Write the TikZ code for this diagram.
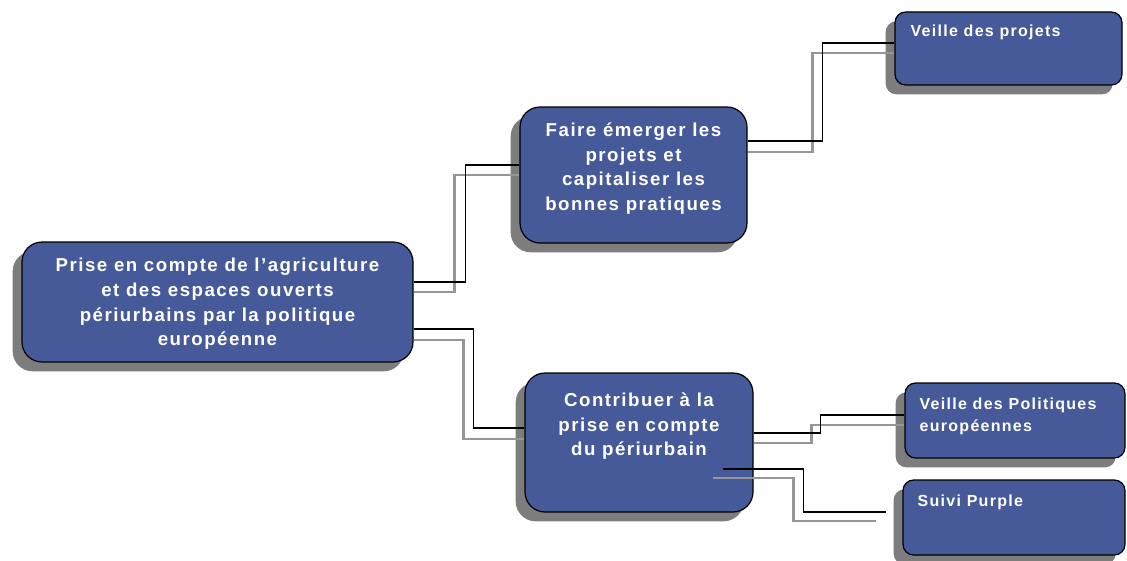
\documentclass[tikz,border=0pt]{standalone}
\usepackage{fontspec}
\setmainfont{Liberation Sans}
\newfontfamily\boxfont[LetterSpace=8]{Liberation Sans}
\usetikzlibrary{calc,shadows}
\definecolor{boxblue}{RGB}{70,89,153}
\definecolor{shadowgray}{RGB}{125,125,125}
\definecolor{lineshadow}{RGB}{150,150,150}
\begin{document}
\begin{tikzpicture}[x=0.75pt,y=-0.75pt,
  box/.style={draw=black, line width=0.9pt, fill=boxblue, inner sep=0pt,
    drop shadow={shadow xshift=-7pt, shadow yshift=-7pt, fill=shadowgray, opacity=1}},
  bigbox/.style={box, rounded corners=15pt},
  smallbox/.style={box, rounded corners=8pt},
  bigtext/.style={text=white, font=\boxfont\bfseries\fontsize{14}{18.5}\selectfont, align=center, inner sep=0pt, anchor=north},
  smalltext/.style={text=white, font=\boxfont\bfseries\fontsize{12}{17}\selectfont, align=left, inner sep=0pt, anchor=north west},
  conn/.style={draw=black, line width=1.1pt},
  connshadow/.style={draw=lineshadow, line width=1.8pt},
]
\useasboundingbox (0,0) rectangle (1127,560);

% boxes
\node[bigbox, minimum width=293.25pt, minimum height=90pt] (root) at (217.5,302) {};
\node[bigbox, minimum width=170.25pt, minimum height=102pt] (faire) at (633.5,175) {};
\node[bigbox, minimum width=171pt, minimum height=104.25pt] (contrib) at (639,442.5) {};
\node[smallbox, minimum width=170.25pt, minimum height=54.75pt] (vproj) at (1008.5,48.5) {};
\node[smallbox, minimum width=165pt, minimum height=56.25pt] (vpol) at (1015,420.5) {};
\node[smallbox, minimum width=166.5pt, minimum height=56.25pt] (suivi) at (1014,517.5) {};

% texts
\node[bigtext] (rootT) at ($(root.north)+(0,16.5)$) {Prise en compte de l’agriculture\\et des espaces ouverts\\périurbains par la politique\\européenne};
\node[bigtext] (faireT) at ($(faire.north)+(0,16)$) {Faire émerger les\\projets et\\capitaliser les\\bonnes pratiques};
\node[bigtext] (contribT) at ($(contrib.north)+(0,20)$) {Contribuer à la\\prise en compte\\du périurbain};
\node[smalltext] (vprojT) at ($(vproj.north west)+(16,13)$) {Veille des projets};
\node[smalltext] (vpolT) at ($(vpol.north west)+(15,15)$) {Veille des Politiques\\européennes};
\node[smalltext] (suiviT) at ($(suivi.north west)+(15,15)$) {Suivi Purple};

% connectors: root -> faire
\draw[connshadow] ($(root.east)+(0,-10)$) -| ($(faire.west)+(-65,0)$) -- (faire.west);
\draw[conn] ($(root.east)+(0,-20)$) -| ($(faire.west)+(-54,-10)$) -- ($(faire.west)+(0,-10)$);
% faire -> vproj
\draw[connshadow] ($(faire.east)+(0,-23)$) -| ($(vproj.west)+(-82,4.5)$) -- ($(vproj.west)+(0,4.5)$);
\draw[conn] ($(faire.east)+(0,-34)$) -| ($(vproj.west)+(-72,-5.5)$) -- ($(vproj.west)+(0,-5.5)$);
% root -> contrib
\draw[connshadow] ($(root.east)+(0,38)$) -| ($(contrib.west)+(-61,-3.5)$) -- ($(contrib.west)+(0,-3.5)$);
\draw[conn] ($(root.east)+(0,27)$) -| ($(contrib.west)+(-51,-14.5)$) -- ($(contrib.west)+(0,-14.5)$);
% contrib -> vpol
\draw[connshadow] ($(contrib.east)+(0,0.5)$) -| ($(vpol.west)+(-93,4.5)$) -- ($(vpol.west)+(0,4.5)$);
\draw[conn] ($(contrib.east)+(0,-9.5)$) -| ($(vpol.west)+(-84,-5.5)$) -- ($(vpol.west)+(0,-5.5)$);
% contrib -> suivi
\coordinate (sEndG) at ($(suivi.west)+(-26,3.5)$);
\coordinate (sEndB) at ($(suivi.west)+(-16,-5.5)$);
\draw[connshadow] ($(contrib.east)+(-41,35.5)$) -| ($(suivi.west)+(-109,3.5)$) -- (sEndG);
\draw[conn] ($(contrib.east)+(-31,26.5)$) -| ($(suivi.west)+(-99,-5.5)$) -- (sEndB);
\end{tikzpicture}
\end{document}
